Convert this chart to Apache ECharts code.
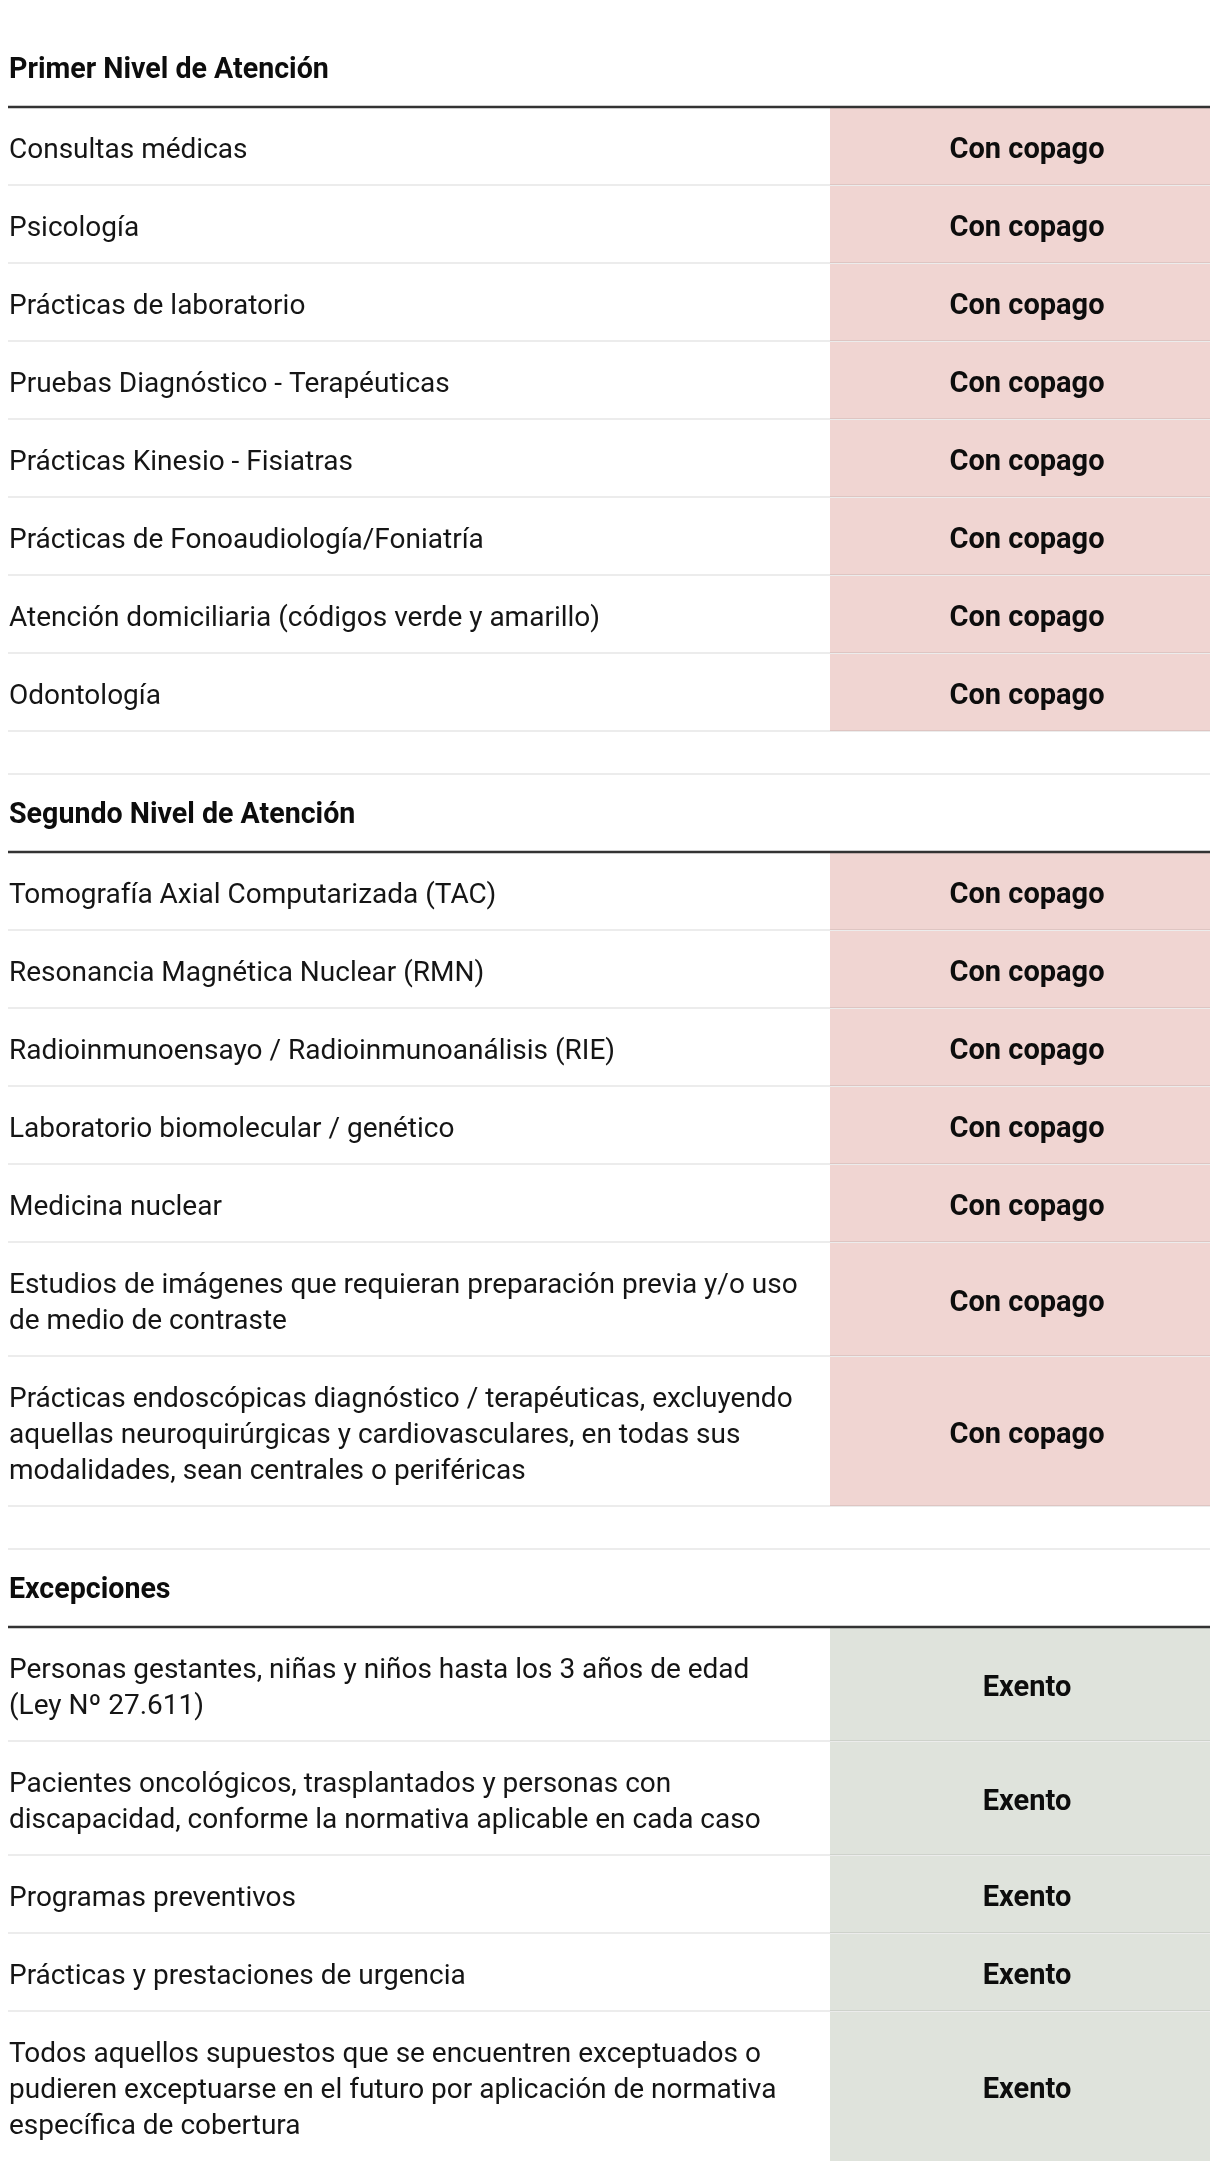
<!DOCTYPE html>
<html>
<head>
<meta charset="utf-8">
<script src="https://cdn.jsdelivr.net/npm/echarts@6/dist/echarts.min.js"></script>
<style>
html,body{margin:0;padding:0;background:#fff;}
#chart{width:1220px;height:2174px;}
</style>
</head>
<body>
<div id="chart"></div>
<script>
// ---- data ----
const sectionTitles = ['Primer Nivel de Atención', 'Segundo Nivel de Atención', 'Excepciones'];

const primerItems = [
  'Consultas médicas',
  'Psicología',
  'Prácticas de laboratorio',
  'Pruebas Diagnóstico - Terapéuticas',
  'Prácticas Kinesio - Fisiatras',
  'Prácticas de Fonoaudiología/Foniatría',
  'Atención domiciliaria (códigos verde y amarillo)',
  'Odontología'
];
const primerStatus = ['Con copago','Con copago','Con copago','Con copago','Con copago','Con copago','Con copago','Con copago'];

const segundoItems = [
  'Tomografía Axial Computarizada (TAC)',
  'Resonancia Magnética Nuclear (RMN)',
  'Radioinmunoensayo / Radioinmunoanálisis (RIE)',
  'Laboratorio biomolecular / genético',
  'Medicina nuclear',
  'Estudios de imágenes que requieran preparación previa y/o uso\nde medio de contraste',
  'Prácticas endoscópicas diagnóstico / terapéuticas, excluyendo\naquellas neuroquirúrgicas y cardiovasculares, en todas sus\nmodalidades, sean centrales o periféricas'
];
const segundoStatus = ['Con copago','Con copago','Con copago','Con copago','Con copago','Con copago','Con copago'];

const excepcionesItems = [
  'Personas gestantes, niñas y niños hasta los 3 años de edad\n(Ley Nº 27.611)',
  'Pacientes oncológicos, trasplantados y personas con\ndiscapacidad, conforme la normativa aplicable en cada caso',
  'Programas preventivos',
  'Prácticas y prestaciones de urgencia',
  'Todos aquellos supuestos que se encuentren exceptuados o\npudieren exceptuarse en el futuro por aplicación de normativa\nespecífica de cobertura'
];
const excepcionesStatus = ['Exento','Exento','Exento','Exento','Exento'];

const statusColors = { 'Con copago': '#f0d5d2', 'Exento': '#dfe3dc' };

// ---- layout (pixel units on a hidden value axis) ----
const TOP = 29, HEADER_H = 78, ROW_H = 78, LINE_H = 36, GAP = 43;
const SPLIT = (830 - 8) / (1210 - 8);
const FONT = 'Roboto, "Noto Sans", sans-serif';

const sections = [
  [sectionTitles[0], primerItems, primerStatus],
  [sectionTitles[1], segundoItems, segundoStatus],
  [sectionTitles[2], excepcionesItems, excepcionesStatus]
];

const headers = [];
const rows = [];
let y = TOP;
sections.forEach(function (sec, si) {
  if (si > 0) y += GAP;
  headers.push([si, y, y + HEADER_H, sec[0]]);
  y += HEADER_H;
  sec[1].forEach(function (label, i) {
    const n = label.split('\n').length;
    const h = ROW_H + LINE_H * (n - 1);
    rows.push([rows.length, y, y + h, label, sec[2][i]]);
    y += h;
  });
});
const lastRow = rows.length - 1;

const chart = echarts.init(document.getElementById('chart'), null, { renderer: 'canvas' });
chart.setOption({
  animation: false,
  backgroundColor: '#ffffff',
  grid: { left: 8, right: 10, top: 0, bottom: 0 },
  xAxis: { type: 'value', min: 0, max: 1, show: false },
  yAxis: { type: 'value', min: 0, max: 2174, inverse: true, show: false },
  series: [
    {
      type: 'custom',
      coordinateSystem: 'cartesian2d',
      data: rows,
      renderItem: function (params, api) {
        const idx = params.dataIndex;
        const r = rows[idx];
        const tl = api.coord([0, r[1]]);
        const sp = api.coord([SPLIT, r[1]]);
        const br = api.coord([1, r[2]]);
        const cy = (tl[1] + br[1]) / 2;
        const children = [
          {
            type: 'rect',
            shape: { x: sp[0], y: tl[1] + 1, width: br[0] - sp[0], height: br[1] - tl[1] - 1 },
            style: { fill: statusColors[r[4]] }
          },
          {
            type: 'text',
            style: {
              text: r[3], x: tl[0] + 1, y: cy + 5,
              fill: '#151515', fontSize: 28, fontFamily: FONT, fontWeight: 'normal',
              lineHeight: LINE_H, align: 'left', verticalAlign: 'middle'
            }
          },
          {
            type: 'text',
            style: {
              text: r[4], x: (sp[0] + br[0]) / 2 + 7, y: cy + 5,
              fill: '#0d0d0d', fontSize: 29, fontFamily: FONT, fontWeight: 'bold',
              align: 'center', verticalAlign: 'middle'
            }
          }
        ];
        if (idx !== lastRow) {
          children.push({
            type: 'line',
            shape: { x1: tl[0], y1: br[1], x2: br[0], y2: br[1] },
            style: { stroke: 'rgba(0,0,0,0.075)', lineWidth: 2 }
          });
        }
        return { type: 'group', children: children };
      }
    },
    {
      type: 'custom',
      coordinateSystem: 'cartesian2d',
      data: headers,
      renderItem: function (params, api) {
        const h = headers[params.dataIndex];
        const tl = api.coord([0, h[1]]);
        const br = api.coord([1, h[2]]);
        const children = [
          {
            type: 'text',
            style: {
              text: h[3], x: tl[0] + 1, y: (tl[1] + br[1]) / 2 + 3,
              fill: '#0d0d0d', fontSize: 28.6, fontFamily: FONT, fontWeight: 'bold',
              align: 'left', verticalAlign: 'middle'
            }
          },
          {
            type: 'line',
            shape: { x1: tl[0], y1: br[1], x2: br[0], y2: br[1] },
            style: { stroke: '#333333', lineWidth: 2.5 }
          }
        ];
        if (h[0] > 0) {
          children.push({
            type: 'line',
            shape: { x1: tl[0], y1: tl[1], x2: br[0], y2: tl[1] },
            style: { stroke: 'rgba(0,0,0,0.075)', lineWidth: 2 }
          });
        }
        return { type: 'group', children: children };
      }
    }
  ]
});
</script>
</body>
</html>
